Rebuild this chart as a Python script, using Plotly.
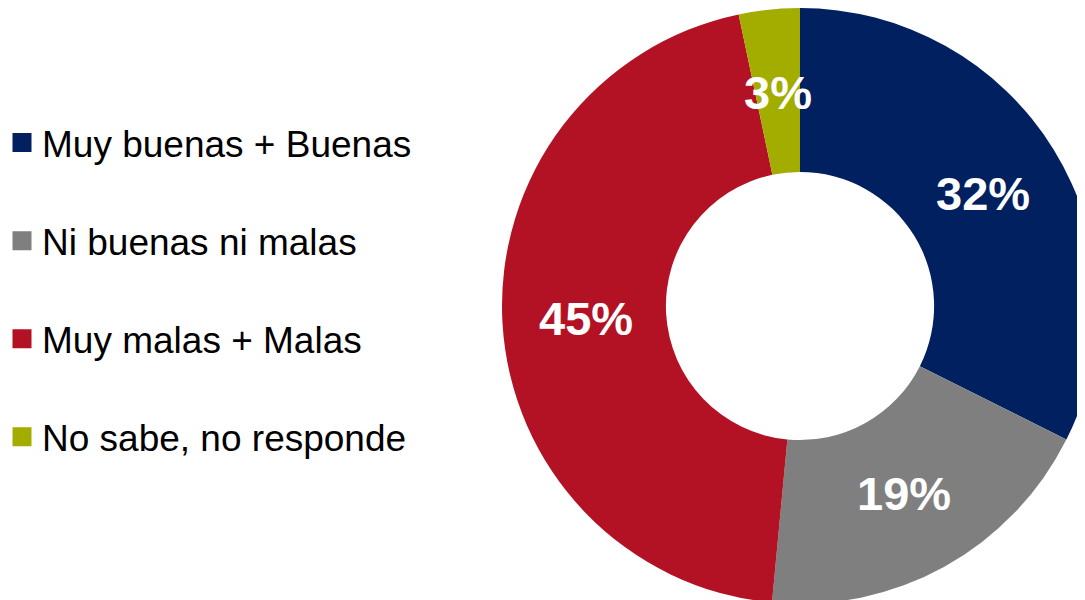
import math
import plotly.graph_objects as go

categories = ["Muy buenas + Buenas", "Ni buenas ni malas", "Muy malas + Malas", "No sabe, no responde"]
values = [32.4, 19.1, 45.2, 3.3]
colors = ["#002060", "#7F7F7F", "#B31224", "#A3AD00"]

W, H = 1091, 600
dom_x = [493 / W, 1.0]
dom_y = [4 / H, 1.0]
hole = 0.45

fig = go.Figure()
fig.add_trace(go.Pie(
    labels=categories, values=values, sort=False, direction="clockwise", rotation=0,
    hole=hole, marker=dict(colors=colors, line=dict(width=0)),
    textinfo="none", hoverinfo="label+percent", showlegend=False,
    domain=dict(x=dom_x, y=dom_y),
))

# legend entries
for cat, col in zip(categories, colors):
    fig.add_trace(go.Scatter(
        x=[None], y=[None], mode="markers", name=cat, legendgroup=cat,
        marker=dict(symbol="square", size=16, color=col, line=dict(width=3, color=col)),
    ))

# percentage labels at slice mid-angles
wpx = (dom_x[1] - dom_x[0]) * W
hpx = (dom_y[1] - dom_y[0]) * H
R = min(wpx, hpx) / 2
cx = (dom_x[0] + dom_x[1]) / 2
cy = (dom_y[0] + dom_y[1]) / 2
total = sum(values)
cum = 0
annotations = []
for v in values:
    mid = (cum + v / 2) / total * 2 * math.pi
    cum += v
    r = R * 0.72
    ax = cx + r * math.sin(mid) / W
    ay = cy + r * math.cos(mid) / H
    annotations.append(dict(
        x=ax, y=ay, xref="paper", yref="paper", showarrow=False,
        text=f"{round(v)}%", font=dict(size=47, color="white", family="Arial, Liberation Sans", weight="bold"),
        xanchor="center", yanchor="middle",
    ))

fig.update_layout(
    width=W, height=H, margin=dict(l=0, r=0, t=0, b=0, autoexpand=False),
    paper_bgcolor="white", plot_bgcolor="white",
    xaxis=dict(visible=False), yaxis=dict(visible=False),
    font=dict(family="Arial, Liberation Sans", color="black"),
    legend=dict(x=-6 / W, xanchor="left", y=0.530, yanchor="middle",
                font=dict(size=37, color="black"), tracegroupgap=47,
                itemsizing="trace", bgcolor="rgba(0,0,0,0)"),
    annotations=annotations,
)

fig.write_html("out.html")
